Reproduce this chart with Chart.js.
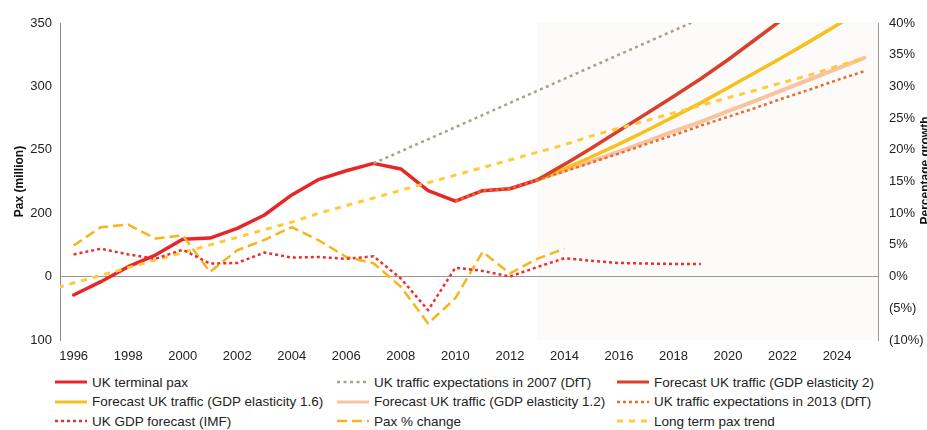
<!DOCTYPE html>
<html><head><meta charset="utf-8">
<script src="https://cdn.jsdelivr.net/npm/chart.js@4.4.0/dist/chart.umd.min.js"></script>
<style>
html,body{margin:0;padding:0;background:#fff;}
#wrap{position:relative;width:927px;height:430px;overflow:hidden;font-family:"Liberation Sans",Arial,sans-serif;}
#cbox{position:absolute;left:0;top:0;width:927px;height:370px;}
.li{position:absolute;display:flex;align-items:center;font-size:13.5px;color:#222;white-space:nowrap;height:20px;}
.li svg{margin-right:5px;flex:none;}
</style></head><body>
<div id="wrap"><div id="cbox"><canvas id="cv"></canvas></div><div id="legend"></div></div>
<script>
// ---- data ----
const paxYears = [1996,1997,1998,1999,2000,2001,2002,2003,2004,2005,2006,2007,2008,2009,2010,2011,2012,2013];
const paxValues = [135.5,146,157.8,167,179.4,180.4,188,198.6,214.4,226.7,233.5,239.3,234.9,217.8,209.6,217.8,219.3,226.2];

const dft2007Years = [2007,2008,2009,2010,2011,2012,2013,2014,2015,2016,2017,2018,2019];
const dft2007Values = [239.3,248.8,258.3,267.8,277.4,287,296.5,306,315.5,325,334.5,344,353.5];

const elast2Years = [2013,2014,2015,2016,2017,2018,2019,2020,2021,2022];
const elast2Values = [226.2,238.5,251.5,265,278.5,292,306,321,337,353];

const elast16Years = [2013,2014,2015,2016,2017,2018,2019,2020,2021,2022,2023,2024,2025];
const elast16Values = [226.2,235,244.5,254.5,265,276,287,299,311,323,335.5,348.5,361];

const elast12Years = [2013,2014,2015,2016,2017,2018,2019,2020,2021,2022,2023,2024,2025];
const elast12Values = [226.2,233.5,241,248.5,256.5,264.5,272,280.5,288.5,297,305.5,314,322.5];

const dft2013Years = [2010,2011,2012,2013,2014,2015,2016,2017,2018,2019,2020,2021,2022,2023,2024,2025];
const dft2013Values = [209.6,217.8,219.3,226.2,233,240,247,254.5,261.5,269,276,283,290.5,297.5,305,312];

const gdpYears = [1996,1997,1998,1999,2000,2001,2002,2003,2004,2005,2006,2007,2008,2009,2010,2011,2012,2013,2014,2015,2016,2017,2018,2019];
const gdpValues = [3.5,4.4,3.5,2.8,4.25,2.06,2.15,3.8,3.0,3.1,2.8,3.2,-0.3,-5.3,1.4,0.9,0.0,1.5,2.9,2.5,2.15,2.06,2.0,2.0];

const paxChangeYears = [1996,1997,1998,1999,2000,2001,2002,2003,2004,2005,2006,2007,2008,2009,2010,2011,2012,2013,2014];
const paxChangeValues = [4.9,7.8,8.2,6.0,6.5,0.75,4.15,5.8,7.8,5.7,3.1,2.1,-1.6,-7.4,-3.4,3.9,0.5,2.8,4.4];

const trendYears = [1995,1996,1997,1998,1999,2000,2001,2002,2003,2004,2005,2006,2007,2008,2009,2010,2011,2012,2013,2014,2015,2016,2017,2018,2019,2020,2021,2022,2023,2024,2025];
const trendValues = [139,145,151,157,163,169,175,181,187,193,200,206,212,218,224,230,236,242,248,254,261,267,273,279,285,291,297,303,309,316,322];

const xTickYears = [1996,1998,2000,2002,2004,2006,2008,2010,2012,2014,2016,2018,2020,2022,2024];
const leftTickValues = [100,150,200,250,300,350];
const leftTickLabels = ["100","0","200","250","300","350"];
const rightTickValues = [-10,-5,0,5,10,15,20,25,30,35,40];
const rightTickLabels = ["(10%)","(5%)","0%","5%","10%","15%","20%","25%","30%","35%","40%"];
const forecastStartYear = 2013;

const labels = {
  pax: "UK terminal pax",
  dft07: "UK traffic expectations in 2007 (DfT)",
  e2: "Forecast UK traffic (GDP elasticity 2)",
  e16: "Forecast UK traffic (GDP elasticity 1.6)",
  e12: "Forecast UK traffic (GDP elasticity 1.2)",
  dft13: "UK traffic expectations in 2013 (DfT)",
  gdp: "UK GDP forecast (IMF)",
  chg: "Pax % change",
  trend: "Long term pax trend"
};

// ---- build ----
const pts = (xs, ys) => xs.map((x, i) => ({x: x, y: ys[i]}));
const mk = (label, xs, ys, axis, color, width, dash, order) => ({
  label, data: pts(xs, ys), yAxisID: axis, borderColor: color, backgroundColor: color,
  borderWidth: width, borderDash: dash, pointRadius: 0, fill: false, tension: 0, order,
  borderCapStyle: dash.length ? 'butt' : 'round', borderJoinStyle: 'round'
});

const datasets = [
  mk(labels.pax, paxYears, paxValues, 'y', '#e8262a', 3.5, [], 6),
  mk(labels.dft07, dft2007Years, dft2007Values, 'y', '#a8a08c', 2.5, [3,3.5], 1),
  mk(labels.e2, elast2Years, elast2Values, 'y', '#d8402b', 3.5, [], 5),
  mk(labels.e16, elast16Years, elast16Values, 'y', '#f8c01c', 3.5, [], 5),
  mk(labels.e12, elast12Years, elast12Values, 'y', '#f8c39e', 4, [], 5),
  mk(labels.dft13, dft2013Years, dft2013Values, 'y', '#e86c2c', 2.5, [3,3], 2),
  mk(labels.gdp, gdpYears, gdpValues, 'y1', '#ee2e2e', 2.5, [3,3], 3),
  mk(labels.chg, paxChangeYears, paxChangeValues, 'y1', '#f6b51a', 2.5, [10,5], 4),
  mk(labels.trend, trendYears, trendValues, 'y', '#ffcb3a', 3, [6,6], 3)
];

const FONT = '"Liberation Sans", Arial, sans-serif';

const shadePlugin = {
  id: 'shade',
  beforeDraw(chart) {
    const {ctx, chartArea: a, scales} = chart;
    const x0 = scales.x.getPixelForValue(forecastStartYear);
    ctx.save();
    ctx.fillStyle = '#fcfbfa';
    ctx.fillRect(x0, a.top, a.right - x0, a.bottom - a.top);
    ctx.restore();
  }
};
const rightTitlePlugin = {
  id: 'rtitle',
  afterDraw(chart) {
    const {ctx, scales} = chart;
    const yc = (scales.y1.top + scales.y1.bottom) / 2 - 11;
    ctx.save();
    ctx.translate(926, yc);
    ctx.rotate(-Math.PI / 2);
    ctx.font = 'bold 12px ' + FONT;
    ctx.fillStyle = '#111';
    ctx.textAlign = 'center';
    ctx.textBaseline = 'middle';
    ctx.fillText('Percentage growth', 0, 0);
    ctx.restore();
  }
};

const chart = new Chart(document.getElementById('cv'), {
  type: 'line',
  data: {datasets},
  plugins: [shadePlugin, rightTitlePlugin],
  options: {
    responsive: true, maintainAspectRatio: false, animation: false,
    layout: {padding: {top: 23, bottom: 2, left: 0, right: 0}},
    plugins: {legend: {display: false}, tooltip: {enabled: false}},
    scales: {
      x: {
        type: 'linear', min: 1995.5, max: 2025.5,
        grid: {display: false, drawTicks: false}, border: {display: false},
        afterBuildTicks: a => { a.ticks = xTickYears.map(v => ({value: v})); },
        afterFit: s => { s.height = 28; },
        ticks: {autoSkip: false, maxRotation: 0, padding: 9, color: '#222',
          font: {family: FONT, size: 13}, callback: v => String(v)}
      },
      y: {
        position: 'left', min: 100, max: 350,
        grid: {display: false, drawTicks: false}, border: {display: true, color: '#8a8a8a', width: 1},
        afterBuildTicks: a => { a.ticks = leftTickValues.map(v => ({value: v})); },
        afterFit: s => { s.width = 60; },
        ticks: {padding: 8, color: '#222', font: {family: FONT, size: 13},
          callback: v => leftTickLabels[leftTickValues.indexOf(v)]},
        title: {display: true, text: 'Pax (million)', color: '#111',
          font: {family: FONT, size: 12, weight: 'bold'}, padding: {top: 12, bottom: 0}}
      },
      y1: {
        position: 'right', min: -10, max: 40,
        grid: {display: true, drawOnChartArea: true, drawTicks: false, lineWidth: 1,
          color: c => (c.tick && c.tick.value === 0) ? '#9a9a9a' : 'rgba(0,0,0,0)'},
        border: {display: true, color: '#9a9a9a', width: 1},
        afterBuildTicks: a => { a.ticks = rightTickValues.map(v => ({value: v})); },
        afterFit: s => { s.width = 49; },
        ticks: {padding: 11, color: '#222', font: {family: FONT, size: 13},
          callback: v => rightTickLabels[rightTickValues.indexOf(v)]}
      }
    }
  }
});

// ---- HTML legend (3 columns) ----
const legendOrder = [labels.pax, labels.dft07, labels.e2, labels.e16, labels.e12, labels.dft13, labels.gdp, labels.chg, labels.trend];
const colX = [55, 337, 617];
const rowY = [372, 391.5, 411];
const leg = document.getElementById('legend');
legendOrder.forEach((lab, i) => {
  const d = chart.data.datasets.find(s => s.label === lab);
  const el = document.createElement('div');
  el.className = 'li';
  el.style.left = colX[i % 3] + 'px';
  el.style.top = rowY[Math.floor(i / 3)] + 'px';
  const w = Math.min(d.borderWidth, 3);
  const dash = d.borderDash.length ? ` stroke-dasharray="${d.borderDash.join(' ')}"` : '';
  el.innerHTML = `<svg width="32" height="10"><line x1="0" y1="5" x2="32" y2="5" stroke="${d.borderColor}" stroke-width="${w}"${dash}/></svg><span>${lab}</span>`;
  leg.appendChild(el);
});
</script>
</body></html>
